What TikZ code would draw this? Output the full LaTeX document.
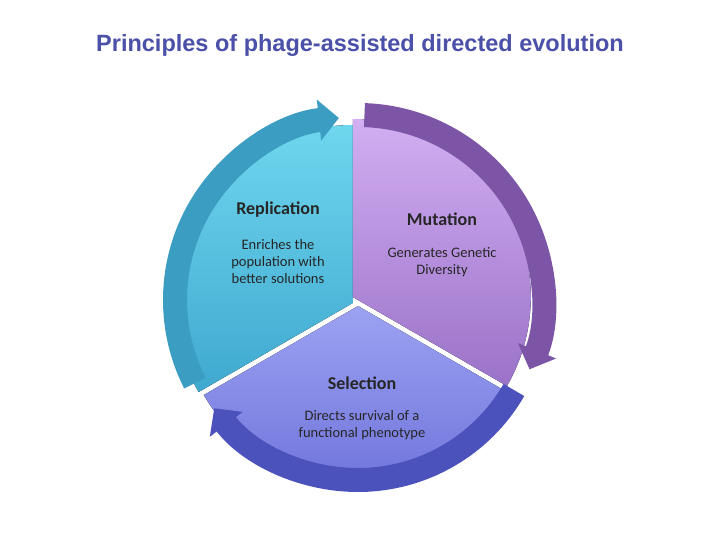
\documentclass[tikz,border=0pt]{standalone}
\usepackage{fontspec}
\setmainfont{Carlito}
\newfontfamily\titlefont{Liberation Sans}
\usetikzlibrary{arrows.meta}
\definecolor{ttl}{HTML}{4B50A8}
\definecolor{repA}{HTML}{6FD6EE}\definecolor{repB}{HTML}{3FA8CF}\definecolor{repArr}{HTML}{3B9DC2}
\definecolor{mutA}{HTML}{D2AEF2}\definecolor{mutB}{HTML}{9A72C8}\definecolor{mutArr}{HTML}{7C55A6}
\definecolor{selA}{HTML}{9CA2F2}\definecolor{selB}{HTML}{6A6FD8}\definecolor{selArr}{HTML}{4C52BC}
\tikzset{
 band/.style={line width=24pt,-{Triangle[length=20pt,width=40pt]}},
 head/.style={font=\bfseries\fontsize{18}{20}\selectfont,text=black!85},
 body/.style={font=\fontsize{14.5}{17}\selectfont,text=black!85,align=center}
}
\begin{document}
\begin{tikzpicture}[x=1pt,y=-1pt]
\useasboundingbox[fill=white] (0,0) rectangle (720,540);
\node[font=\titlefont\bfseries\fontsize{23.5}{26}\selectfont,text=ttl] (title) at (360,45) {Principles of phage-assisted directed evolution};
\coordinate (c) at (358,300);
% sectors
\fill[left color=repA,right color=repB,shading angle=0] ([shift={(150:6)}]c) -- ++(90:-178) arc[start angle=-90,end angle=-210,radius=178] -- cycle;
\fill[top color=mutA,bottom color=mutB] ([shift={(30:-6)}]c) -- ++(0,-178) arc[start angle=-90,end angle=30,radius=178] -- cycle;
\fill[top color=selA,bottom color=selB] ([shift={(0,6)}]c) -- ++(30:178) arc[start angle=30,end angle=150,radius=178] -- cycle;
% arrows (y flipped: angles measured clockwise)
\draw[band,selArr] (c) ++(30:180) arc[start angle=30,end angle=143,radius=180];
\draw[band,repArr] (c) ++(153:183) arc[start angle=153,end angle=264,radius=183];
\draw[band,mutArr] (c) ++(-88:185) arc[start angle=-88,end angle=22,radius=185];
% texts
\node[head] (rh) at (278,210) {Replication};
\node[body] (rb) at (278,262) {Enriches the\\population with\\better solutions};
\node[head] (mh) at (442,219) {Mutation};
\node[body] (mb) at (442,262) {Generates Genetic\\Diversity};
\node[head] (sh) at (362,383) {Selection};
\node[body] (sb) at (362,425) {Directs survival of a\\functional phenotype};
\end{tikzpicture}
\end{document}
